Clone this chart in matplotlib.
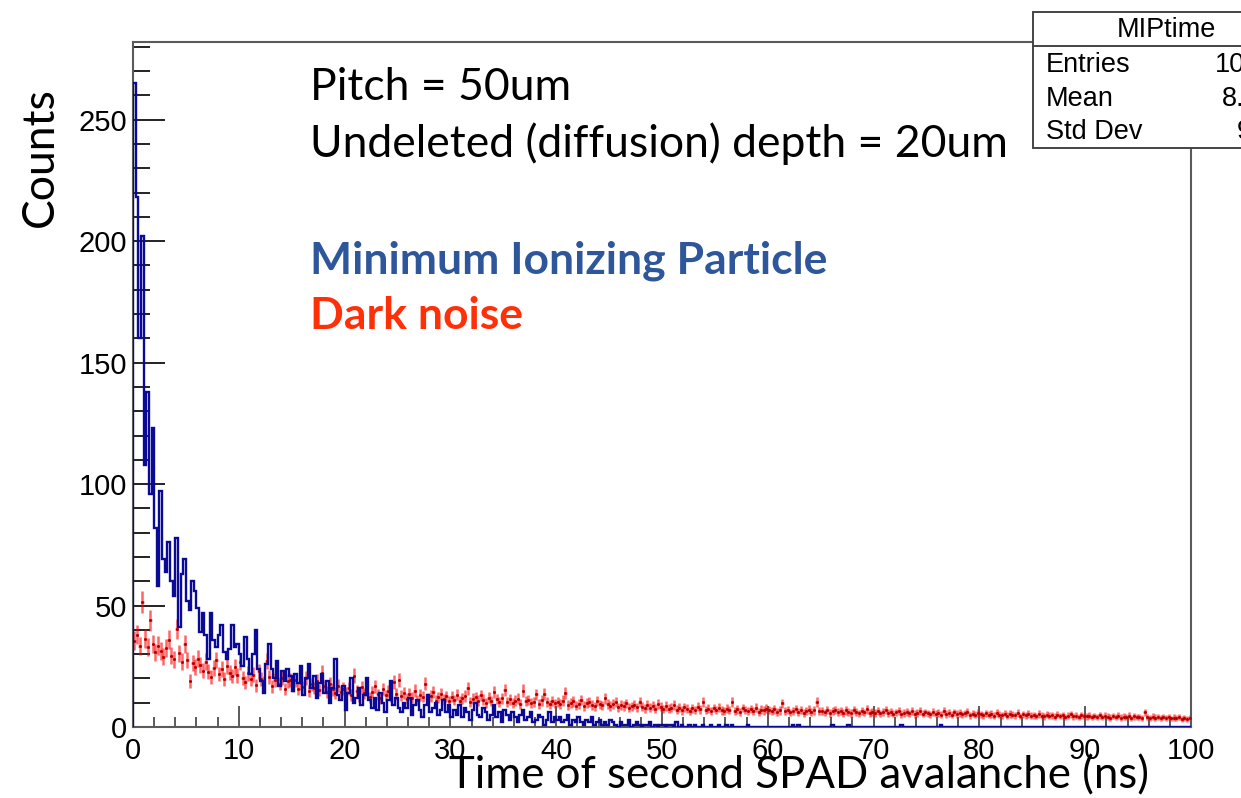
import numpy as np
import matplotlib
matplotlib.use("Agg")
import matplotlib.pyplot as plt
from matplotlib.patches import Rectangle
from matplotlib.lines import Line2D

# MIP time histogram, 0.25 ns bins from 0 to 100 ns
mip_counts = [
    265, 218, 160, 202, 108, 138, 96, 123, 82, 58, 97, 69, 64, 76, 60, 54, 78, 41, 63, 69,
    52, 48, 60, 56, 49, 39, 47, 38, 28, 47, 36, 33, 38, 42, 31, 28, 32, 42, 33, 34,
    30, 25, 37, 28, 22, 30, 40, 24, 19, 14, 26, 34, 24, 20, 27, 17, 23, 19, 24, 21,
    15, 22, 18, 25, 13, 20, 26, 16, 21, 12, 18, 22, 14, 19, 10, 16, 28, 13, 11, 17,
    7, 14, 20, 10, 12, 16, 9, 13, 20, 11, 8, 12, 7, 14, 10, 6, 11, 19, 9, 12,
    8, 6, 10, 8, 12, 5, 9, 11, 7, 4, 9, 13, 6, 8, 10, 5, 7, 11, 6, 9,
    4, 7, 5, 9, 4, 8, 6, 3, 7, 10, 5, 4, 8, 6, 3, 5, 9, 4, 6, 2,
    7, 5, 3, 6, 4, 2, 5, 7, 3, 4, 6, 2, 3, 5, 4, 1, 3, 6, 2, 4,
    3, 4, 2, 3, 5, 1, 3, 2, 4, 2, 1, 3, 2, 4, 1, 2, 3, 1, 2, 1,
    3, 2, 1, 0, 2, 1, 1, 3, 0, 1, 2, 1, 0, 1, 1, 2, 0, 1, 0, 1,
    1, 0, 1, 1, 0, 2, 0, 1, 0, 0, 1, 0, 1, 0, 0, 1, 0, 0, 1, 0,
    0, 1, 0, 0, 1, 0, 1, 0, 0, 0, 0, 0, 1, 0, 0, 0, 0, 0, 0, 0,
    0, 0, 0, 0, 0, 0, 0, 0, 0, 1, 0, 1, 0, 0, 0, 0, 0, 0, 0, 0,
    0, 0, 0, 0, 1, 0, 0, 0, 0, 0, 1, 0, 0, 0, 0, 0, 0, 0, 0, 0,
    0, 0, 0, 0, 0, 0, 0, 0, 0, 0, 1, 0, 0, 0, 0, 0, 0, 0, 0, 0,
    0, 0, 0, 0, 0, 1, 0, 0, 0, 0, 0, 0, 0, 0, 0, 0, 0, 0, 0, 0,
    0, 0, 0, 0, 0, 0, 0, 0, 0, 0, 0, 0, 0, 0, 0, 0, 0, 0, 0, 0,
    0, 0, 0, 0, 0, 0, 0, 0, 0, 0, 0, 0, 0, 0, 0, 0, 0, 0, 0, 0,
    0, 0, 0, 0, 0, 0, 0, 0, 0, 0, 0, 0, 0, 0, 0, 0, 0, 0, 0, 0,
    0, 0, 0, 0, 0, 0, 0, 0, 0, 0, 0, 0, 0, 0, 0, 0, 0, 0, 0, 0,
]

# dark noise histogram (scaled), same binning
dark_counts = [
    35.5, 38.0, 33.2, 51.5, 36.4, 32.8, 44.0, 34.1, 30.7, 33.5, 31.2, 28.9, 32.6, 36.0, 29.4, 27.8, 40.5, 30.3, 26.9, 34.2,
    27.5, 19.0, 26.4, 24.8, 28.1, 25.6, 23.2, 26.9, 22.7, 20.5, 24.3, 27.6, 21.8, 23.9, 19.7, 25.2, 22.4, 20.9, 24.6, 21.3,
    26.8, 20.3, 18.4, 22.1, 19.6, 21.5, 17.2, 23.0, 19.9, 18.1, 27.2, 20.6, 16.8, 19.3, 21.7, 17.9, 20.2, 15.6, 18.8, 19.5,
    17.0, 19.4, 15.8, 18.2, 16.5, 20.1, 14.9, 17.6, 16.1, 18.9, 15.2, 22.4, 16.7, 14.3, 17.8, 15.5, 13.9, 16.9, 14.6, 15.8,
    14.2, 15.9, 13.1, 21.2, 14.8, 12.6, 16.3, 13.8, 15.1, 12.2, 14.5, 16.8, 13.4, 11.9, 15.6, 13.0, 14.7, 12.4, 18.6, 13.6,
    19.5, 12.9, 14.1, 11.6, 13.5, 12.1, 15.0, 11.2, 13.2, 12.5, 17.8, 11.8, 12.8, 14.4, 10.9, 12.3, 13.7, 11.4, 12.7, 10.8,
    12.5, 11.1, 13.3, 10.6, 11.9, 12.8, 15.9, 10.4, 11.6, 12.2, 10.9, 13.0, 11.3, 9.9, 12.0, 10.7, 14.6, 11.5, 10.2, 11.8,
    15.2, 10.3, 11.4, 9.8, 10.9, 11.7, 9.5, 15.0, 10.6, 11.2, 9.9, 10.1, 13.4, 9.6, 11.0, 13.6, 10.4, 9.3, 10.8, 9.7,
    10.2, 9.4, 10.9, 13.9, 9.1, 9.9, 10.5, 8.8, 9.6, 11.1, 8.7, 9.8, 10.3, 9.0, 8.5, 10.7, 9.3, 8.9, 11.9, 9.5,
    8.6, 9.4, 10.1, 8.2, 9.0, 8.7, 9.7, 7.9, 8.5, 9.2, 8.1, 10.4, 8.4, 7.7, 9.1, 8.0, 8.8, 7.5, 9.6, 8.3,
    7.4, 8.6, 7.5, 7.9, 9.1, 7.2, 8.0, 6.8, 8.2, 7.5, 6.6, 7.7, 7.0, 8.3, 7.3, 10.2, 7.1, 7.6, 6.7, 7.8,
    7.1, 7.9, 6.8, 6.5, 7.6, 6.9, 10.3, 6.6, 7.3, 6.3, 7.8, 7.0, 6.4, 7.4, 6.7, 8.0, 6.2, 7.2, 6.8, 7.5,
    6.9, 6.4, 7.3, 6.1, 6.8, 9.7, 6.5, 7.1, 6.0, 6.7, 7.4, 6.3, 6.9, 5.9, 6.6, 7.2, 6.2, 6.8, 10.3, 6.4,
    6.7, 6.0, 6.9, 5.8, 6.5, 7.1, 6.1, 6.4, 5.7, 6.8, 6.2, 5.9, 7.0, 6.3, 5.6, 6.6, 6.0, 7.3, 5.8, 6.2,
    5.9, 6.5, 5.6, 6.1, 7.0, 5.7, 6.3, 5.5, 6.0, 6.7, 5.4, 5.9, 6.2, 5.6, 6.4, 5.3, 5.8, 6.6, 5.5, 6.0,
    5.6, 5.2, 6.1, 5.5, 5.9, 5.1, 6.4, 5.4, 5.7, 5.0, 6.0, 5.3, 5.8, 5.2, 5.6, 6.3, 4.9, 5.5, 5.1, 5.7,
    5.2, 4.8, 5.6, 5.0, 5.4, 4.7, 5.9, 5.1, 4.9, 5.5, 4.6, 5.3, 5.0, 4.8, 5.7, 4.5, 5.2, 4.9, 5.4, 4.7,
    4.9, 4.5, 5.3, 4.7, 4.4, 5.1, 4.6, 4.8, 4.3, 5.0, 4.5, 4.9, 4.2, 4.7, 5.2, 4.4, 4.6, 4.1, 4.8, 4.5,
    4.4, 4.7, 4.1, 4.5, 4.2, 4.9, 4.0, 4.6, 4.3, 3.9, 4.5, 4.2, 4.7, 3.9, 4.3, 4.1, 4.6, 3.8, 4.4, 4.0,
    4.2, 3.8, 6.0, 4.0, 3.7, 4.3, 3.9, 4.1, 3.6, 4.0, 3.8, 4.2, 3.5, 3.9, 3.7, 4.0, 3.4, 3.8, 3.3, 3.6,
]

stat_names = ["Entries", "Mean", "Std Dev"]
stat_values = ["10000", "8.312", "9.46"]

t_min, t_max = 0.0, 100.0
edges = np.linspace(t_min, t_max, len(mip_counts) + 1)
centers = 0.5 * (edges[:-1] + edges[1:])
half_w = 0.5 * (edges[1] - edges[0])
dark = np.array(dark_counts)
dark_err = 0.65 * np.sqrt(dark)

W, H = 1241, 798
fig = plt.figure(figsize=(W / 100, H / 100), dpi=100)
ax = fig.add_axes([133 / W, 1 - 727 / H, 1058 / W, 685 / H])

ax.errorbar(centers, dark, xerr=half_w, yerr=dark_err, fmt="none",
            ecolor="#ff0000", elinewidth=1.8, alpha=0.6, zorder=2)
ax.plot(centers, dark, ls="none", marker=".", ms=2.2, color="#b00000", zorder=3)
ax.stairs(mip_counts, edges, color="#0a0a96", lw=1.7, zorder=4)

ax.set_xlim(t_min, t_max)
ax.set_ylim(0, 282)

frame_col = "#5a5a5a"
for s in ax.spines.values():
    s.set_color(frame_col)
    s.set_linewidth(1.5)

ax.set_xticks(np.arange(0, 101, 10))
ax.set_xticks(np.arange(0, 101, 2), minor=True)
ax.set_yticks(np.arange(0, 251, 50))
ax.set_yticks(np.arange(0, 281, 10), minor=True)
ax.tick_params(axis="x", which="major", direction="in", length=15, width=1.4,
               color=frame_col, pad=7, labelsize=21)
ax.tick_params(axis="x", which="minor", direction="in", length=7.5, width=1.4, color=frame_col)
ax.tick_params(axis="y", which="major", direction="in", length=23, width=1.4,
               color="#222222", pad=4, labelsize=21)
ax.tick_params(axis="y", which="minor", direction="in", length=12, width=1.4, color="#222222")
for lab in ax.get_xticklabels() + ax.get_yticklabels():
    lab.set_family("Liberation Sans")

label_font = "Lato"
fig.text(40 / W, 1 - 157 / H, "Counts", rotation=90, ha="center", va="center",
         fontsize=32, family=label_font)
fig.text(799 / W, 1 - 776 / H, "Time of second SPAD avalanche (ns)", ha="center",
         va="center", fontsize=31.5, family=label_font)

fig.text(310 / W, 1 - 88 / H, "Pitch = 50um", ha="left", va="center",
         fontsize=32, family=label_font)
fig.text(310 / W, 1 - 144 / H, "Undeleted (diffusion) depth = 20um", ha="left",
         va="center", fontsize=32, family=label_font)
fig.text(310 / W, 1 - 261 / H, "Minimum Ionizing Particle", ha="left", va="center",
         fontsize=32, fontweight="bold", color="#2e569b", family=label_font)
fig.text(310 / W, 1 - 316 / H, "Dark noise", ha="left", va="center",
         fontsize=32, fontweight="bold", color="#ff3008", family=label_font)

# stats box, partly running off the right edge
bx0, bx1, by0, by1 = 1033, 1299, 12, 148
fig.patches.append(Rectangle((bx0 / W, 1 - by1 / H), (bx1 - bx0) / W, (by1 - by0) / H,
                             transform=fig.transFigure, facecolor="white",
                             edgecolor="#444444", lw=1.4, zorder=10))
fig.lines.append(Line2D([bx0 / W, bx1 / W], [1 - 46 / H, 1 - 46 / H],
                        transform=fig.transFigure, color="#444444", lw=1.4, zorder=11))
fig.text((bx0 + bx1) / 2 / W, 1 - 30 / H, "MIPtime", ha="center", va="center",
         fontsize=19.5, family="Liberation Sans", zorder=12)
for i, (name, val) in enumerate(zip(stat_names, stat_values)):
    yy = 1 - (65 + 33.5 * i) / H
    fig.text(1046 / W, yy, name, ha="left", va="center", fontsize=19.5,
             family="Liberation Sans", zorder=12)
    fig.text(1290 / W, yy, val, ha="right", va="center", fontsize=19.5,
             family="Liberation Sans", zorder=12)

fig.savefig("out.png", dpi=100)
